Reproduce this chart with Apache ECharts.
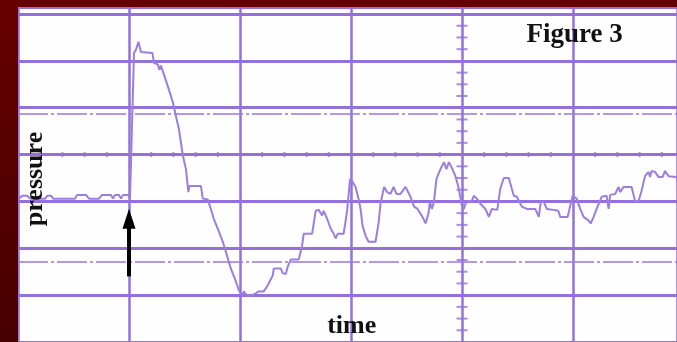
<!DOCTYPE html>
<html>
<head>
<meta charset="utf-8">
<script src="https://cdn.jsdelivr.net/npm/echarts@6/dist/echarts.min.js"></script>
<style>
  html, body { margin: 0; padding: 0; }
  body {
    width: 677px; height: 342px; overflow: hidden; position: relative;
    background: linear-gradient(180deg, #660000 0%, #560000 50%, #480000 100%);
  }
  #chart {
    position: absolute; left: 18px; top: 7px;
    width: 659px; height: 335px; background: #fefefe;
  }
</style>
</head>
<body>
<div id="chart"></div>
<script>
// Recorded trace: time (ms, 100 per major division) and pressure (10 per major division)
const time = [1.1,3.8,8.3,11.0,24.5,26.3,29.9,31.7,51.4,53.2,61.3,64.0,73.0,75.7,83.8,85.6,87.4,91.0,92.8,94.6,99.1,100.9,
  104.5,106.3,108.5,110.8,121.1,122.5,126.1,127.4,128.8,130.6,135.1,139.6,142.3,145.0,148.6,151.3,153.5,154.4,164.8,
  166.5,171.0,173.7,176.4,180.9,184.5,187.2,191.7,196.2,198.9,202.1,203.4,206.6,211.1,214.2,216.9,221.4,225.0,229.5,
  230.4,236.7,238.5,241.2,243.0,245.7,252.9,256.0,257.4,265.0,268.2,270.9,274.0,275.4,278.5,281.7,284.4,286.2,288.0,
  293.4,296.5,299.2,301.4,304.1,306.8,308.6,310.4,313.1,315.8,322.1,324.8,326.6,329.8,332.5,335.6,338.3,341.0,344.6,
  349.1,353.6,356.8,359.9,362.6,365.3,367.1,369.8,371.1,372.9,374.7,377.0,380.6,383.7,386.0,388.2,391.4,394.1,396.8,
  398.6,399.9,401.7,403.1,406.2,408.9,410.7,413.4,416.6,421.1,424.2,426.9,431.8,434.5,437.7,442.2,444.9,446.7,449.4,
  453.9,458.4,466.0,469.2,471.0,473.7,476.4,482.2,486.7,488.5,495.2,497.5,499.7,503.3,506.5,509.6,514.1,515.9,518.6,
  521.3,523.1,525.8,530.3,532.1,533.5,538.0,541.1,542.5,545.6,552.8,555.9,559.1,561.8,563.6,564.9,568.1,569.4,570.8,
  573.9,577.1,580.7,582.9,586.1,593.3,594.6];
const pressure = [20.6,21.2,21.2,20.6,20.6,21.2,21.2,20.6,20.6,21.4,21.4,20.6,20.6,21.4,21.4,20.6,21.4,21.4,20.6,21.4,21.4,20.6,
  51.7,52.4,54.1,51.9,51.7,49.6,49.2,48.1,49.0,47.7,44.5,41.1,38.2,35.4,29.7,26.9,22.0,23.3,23.3,
  20.6,20.4,18.4,16.3,13.6,11.4,9.3,5.7,3.0,1.1,0,0.8,-0.2,0,0.4,0.8,0.8,2.1,4.2,
  5.7,5.7,4.7,4.5,6.1,7.6,7.6,10.6,13.1,13.1,18.0,18.2,17.0,18.0,16.3,14.2,13.1,12.1,13.1,
  13.1,18.0,24.8,24.2,23.1,20.6,18.4,14.8,12.7,11.4,11.4,15.3,19.5,23.1,22.0,21.6,23.1,21.6,21.6,
  23.1,21.0,18.9,18.4,17.4,16.3,15.3,17.4,19.9,18.4,19.9,24.8,26.9,28.4,26.9,28.4,26.9,25.4,23.1,
  22.7,19.1,18.4,19.5,20.1,20.1,21.2,20.6,19.5,18.4,16.7,18.4,18.2,22.7,25.0,25.0,22.7,21.2,21.0,
  18.9,18.4,18.4,16.7,19.9,19.9,18.4,18.2,18.0,16.7,16.7,19.1,21.2,20.6,18.4,16.7,15.9,15.3,16.7,
  18.4,18.4,21.0,21.2,18.4,21.4,21.6,23.1,22.0,23.1,23.1,20.1,20.1,22.3,22.7,25.4,26.3,25.2,26.5,
  26.3,25.2,25.2,26.5,25.4,25.2,23.3];

// Paper ruling
const timeRange = [0, 593.7];
const pressureRange = [-10, 61.5];
const timeDivision = 100;
const pressureDivision = 10;
const timeMinorStep = 20;       // small ticks along the ruled pressure line
const pressureMinorStep = 2.5;  // small ticks along the ruled time line
const tickedPressureLine = 30;
const tickedTimeLine = 400;
const dashedPressureLines = [38.8, 7.2];

// Stimulus marker
const stimulusTime = 100;
const arrowTail = 4.0;
const arrowHead = 16.3;

const paper = '#9470da';
const trace = '#9c7edc';

const series = [
  {
    name: 'pressure',
    type: 'line',
    data: time.map((t, i) => [t, pressure[i]]),
    showSymbol: false,
    lineStyle: { color: trace, width: 2 },
    z: 4,
    clip: true
  }
];

// minor tick marks on the ruling
const hTicks = [];
for (let t = timeRange[0] + timeMinorStep; t < timeRange[1]; t += timeMinorStep) {
  if (Math.abs(t % timeDivision) > 1e-6) hTicks.push([t, tickedPressureLine]);
}
const vTicks = [];
for (let p = pressureRange[0] + pressureMinorStep; p < pressureRange[1]; p += pressureMinorStep) {
  if (Math.abs(p % pressureDivision) > 1e-6) vTicks.push([tickedTimeLine, p]);
}
series.push({
  type: 'scatter', data: hTicks, symbol: 'rect', symbolSize: [2, 5],
  itemStyle: { color: paper }, silent: true, z: 2
});
series.push({
  type: 'scatter', data: vTicks, symbol: 'rect', symbolSize: [11, 2],
  itemStyle: { color: paper }, silent: true, z: 2
});
series.push({
  type: 'line', data: [], silent: true, z: 1,
  markLine: {
    silent: true, symbol: 'none', label: { show: false }, animation: false,
    lineStyle: { color: '#9a78dc', width: 1.6, type: [30, 3, 3, 3] },
    data: dashedPressureLines.map(v => ({ yAxis: v }))
  }
});
series.push({
  type: 'line', data: [], silent: true, z: 6,
  markLine: {
    silent: true, symbol: ['none', 'triangle'], symbolSize: [13, 20],
    label: { show: false }, animation: false,
    lineStyle: { color: '#000', width: 4, type: 'solid', opacity: 1 },
    itemStyle: { color: '#000' },
    data: [[{ coord: [stimulusTime, arrowTail] }, { coord: [stimulusTime, arrowHead] }]]
  }
});

const chart = echarts.init(document.getElementById('chart'), null, { renderer: 'canvas' });
chart.setOption({
  animation: false,
  backgroundColor: 'transparent',
  grid: { left: -1.2, top: 0, width: 660.2, height: 337.2 },
  xAxis: {
    type: 'value', min: timeRange[0], max: timeRange[1], interval: timeDivision,
    axisLine: { show: false }, axisTick: { show: false }, axisLabel: { show: false },
    splitLine: { show: true, lineStyle: { color: paper, width: 2.5 } }
  },
  yAxis: {
    type: 'value', min: pressureRange[0], max: pressureRange[1], interval: pressureDivision,
    axisLine: { show: false }, axisTick: { show: false }, axisLabel: { show: false },
    splitLine: { show: true, lineStyle: { color: paper, width: 2.8 } }
  },
  graphic: [
    { type: 'text', x: 508.5, y: 28.5, z: 10,
      style: { text: 'Figure 3', font: 'bold 27px "Liberation Serif", serif', fill: '#111',
               textAlign: 'left', textVerticalAlign: 'middle' } },
    { type: 'text', x: 333.7, y: 319.5, z: 10,
      style: { text: 'time', font: 'bold 26px "Liberation Serif", serif', fill: '#111',
               textAlign: 'center', textVerticalAlign: 'middle' } },
    { type: 'text', x: 17, y: 172, rotation: Math.PI / 2, z: 10,
      style: { text: 'pressure', font: 'bold 26px "Liberation Serif", serif', fill: '#111',
               textAlign: 'center', textVerticalAlign: 'middle' } }
  ],
  series: series
});
</script>
</body>
</html>
